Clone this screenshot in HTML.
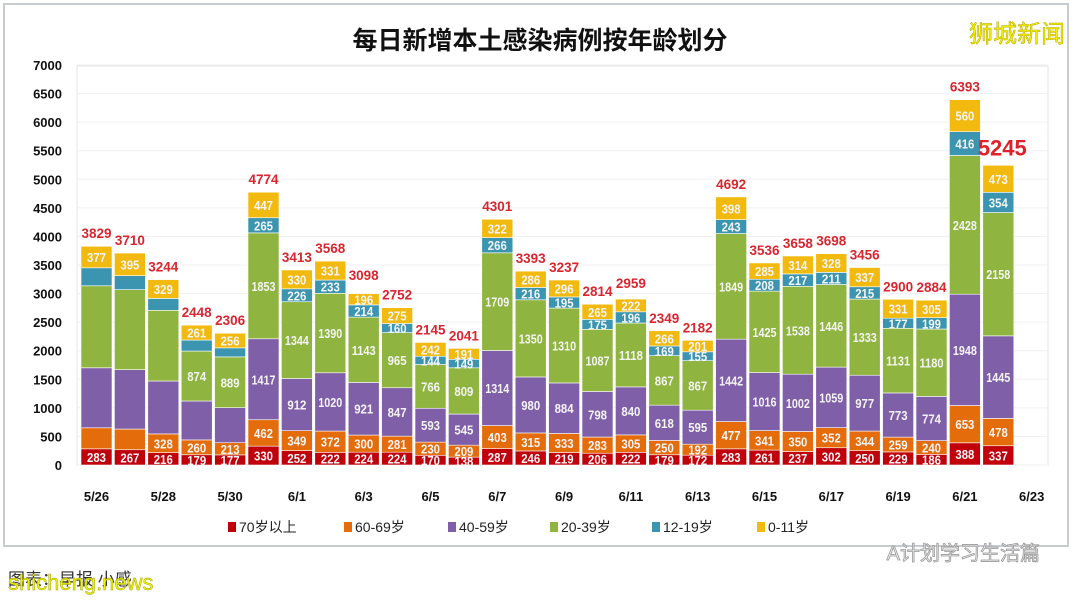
<!DOCTYPE html>
<html><head><meta charset="utf-8"><style>
body{margin:0;background:#fff;width:1080px;height:602px;overflow:hidden;font-family:"Liberation Sans","Noto Sans CJK SC",sans-serif}
</style></head><body>
<svg id="s" width="1080" height="602" xmlns="http://www.w3.org/2000/svg" font-family="Liberation Sans, Noto Sans CJK SC, sans-serif"></svg>
<script>
const d=[[283,368,1050,1435,315,377,3829],[267,362,1040,1400,245,395,3710],[216,328,926,1237,208,329,3244],[179,260,681,874,193,261,2448],[177,213,613,889,158,256,2306],[330,462,1417,1853,265,447,4774],[252,349,912,1344,226,330,3413],[222,372,1020,1390,233,331,3568],[224,300,921,1143,214,196,3098],[224,281,847,965,160,275,2752],[170,230,593,766,144,242,2145],[138,209,545,809,149,191,2041],[287,403,1314,1709,266,322,4301],[246,315,980,1350,216,286,3393],[219,333,884,1310,195,296,3237],[206,283,798,1087,175,265,2814],[222,305,840,1118,196,222,2959],[179,250,618,867,169,266,2349],[172,192,595,867,155,201,2182],[283,477,1442,1849,243,398,4692],[261,341,1016,1425,208,285,3536],[237,350,1002,1538,217,314,3658],[302,352,1059,1446,211,328,3698],[250,344,977,1333,215,337,3456],[229,259,773,1131,177,331,2900],[186,240,774,1180,199,305,2884],[388,653,1948,2428,416,560,6393],[337,478,1445,2158,354,473,5245]];
const col=["#C0000B","#E46C0A","#7F5FA8","#8FB43F","#3C95B0","#F2B90F"];
const k=400/7000,y0=465;
let h='';
h+='<rect x="4" y="4" width="1064" height="542" fill="#fff" stroke="#c8ccd0" stroke-width="2"/>';
h+='<rect x="77" y="66" width="971" height="399" fill="none" stroke="#e4e4e4"/>';
for(let v=0;v<=7000;v+=500){let y=y0-v*k;h+=`<line x1="77" x2="1048" y1="${y}" y2="${y}" stroke="#f0f0f0"/><text x="62" y="${y+5}" font-size="13" font-weight="bold" text-anchor="end" fill="#111">${v}</text>`;}
d.forEach((r,i)=>{let x=81+i*33.4,c=x+15.5,acc=0;
for(let j=0;j<6;j++){let yb=y0-acc*k;acc+=r[j];let yt=y0-acc*k;h+=`<rect x="${x}" y="${yt}" width="31" height="${yb-yt}" fill="${col[j]}" stroke="#fff" stroke-width="0.6"/>`;
let show=!((i<3&&(j==1&&i<2||j==2||j==3||j==4))||((i==3||i==4)&&(j==2||j==4)));
if(show)h+=`<text x="${c}" y="${(yt+yb)/2+5}" font-size="13" font-family="Liberation Sans Narrow, Liberation Sans, sans-serif" font-weight="bold" text-anchor="middle" fill="#f4f4f4" textLength="${String(r[j]).length>3?24:19}" lengthAdjust="spacingAndGlyphs">${r[j]}</text>`;}
let yt=y0-r[6]*k;
if(i==27)h+=`<text x="${c+4}" y="${yt-10}" font-size="22" font-weight="bold" text-anchor="middle" fill="#E0202A">${r[6]}</text>`;
else h+=`<text x="${c}" y="${yt-8}" font-size="14" font-weight="bold" text-anchor="middle" fill="#D9262E" textLength="30" lengthAdjust="spacingAndGlyphs">${r[6]}</text>`;});
const xl=["5/26","5/28","5/30","6/1","6/3","6/5","6/7","6/9","6/11","6/13","6/15","6/17","6/19","6/21","6/23"];
xl.forEach((t,i)=>{h+=`<text x="${96.5+i*2*33.4}" y="501" font-size="13" font-weight="bold" text-anchor="middle" fill="#111">${t}</text>`;});
const lg=[["70岁以上",228],["60-69岁",344],["40-59岁",448],["20-39岁",550],["12-19岁",652],["0-11岁",757]];
lg.forEach((l,i)=>{h+=`<rect x="${l[1]}" y="522" width="8" height="10" fill="${col[i]}"/><text x="${l[1]+11}" y="532" font-size="14" fill="#222">${l[0]}</text>`;});
h+='<text x="540" y="49" font-size="25" font-weight="bold" text-anchor="middle" fill="#111">每日新增本土感染病例按年龄划分</text>';
h+='<text x="1065" y="42" font-size="24" text-anchor="end" fill="#F3F000" stroke="#b8a800" stroke-width="0.5">狮城新闻</text>';
h+='<text x="1040" y="560" font-size="20" text-anchor="end" fill="#eee" stroke="#999" stroke-width="0.8">A计划学习生活篇</text>';
h+='<text x="8" y="585" font-size="17" fill="#333">图表：早报 小感</text>';
h+='<text x="8" y="590" font-size="22" fill="#EEF000" stroke="#999a00" stroke-width="0.4">shicheng.news</text>';
document.getElementById('s').innerHTML=h;
</script>
</body></html>
